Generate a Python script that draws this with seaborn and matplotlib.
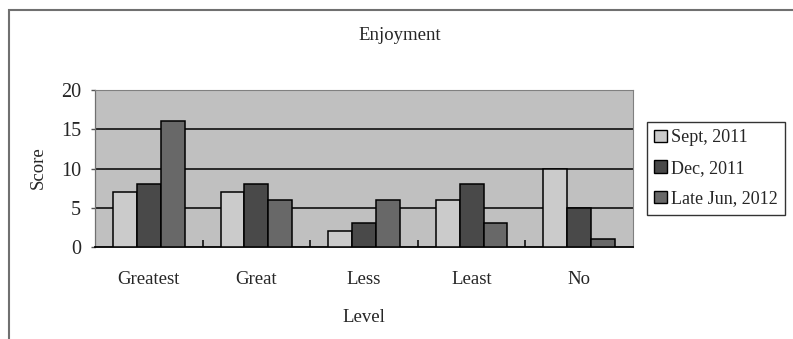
import matplotlib
matplotlib.use("Agg")
import matplotlib.pyplot as plt
import seaborn as sns
import pandas as pd
from matplotlib.patches import Patch, Rectangle
from matplotlib.ticker import FixedLocator

levels = ["Greatest", "Great", "Less", "Least", "No"]
periods = ["Sept, 2011", "Dec, 2011", "Late Jun, 2012"]
sept_2011 = [7, 7, 2, 6, 10]
dec_2011 = [8, 8, 3, 8, 5]
late_jun_2012 = [16, 6, 6, 3, 1]
y_ticks = [0, 5, 10, 15, 20]

colors = ["#cbcbcb", "#494949", "#686868"]
bg = "#c0c0c0"

rows = []
for period, vals in zip(periods, [sept_2011, dec_2011, late_jun_2012]):
    for lvl, v in zip(levels, vals):
        rows.append({"Level": lvl, "Period": period, "Score": v})
df = pd.DataFrame(rows)

sns.set_theme(style="white")
plt.rcParams["font.family"] = ["Liberation Serif", "DejaVu Serif"]

fs = 13.5

fig = plt.figure(figsize=(7.93, 3.39), dpi=100)
ax = fig.add_axes([95 / 793, 1 - 247 / 339, (633 - 95) / 793, (247 - 90) / 339])
ax.set_facecolor(bg)

sns.barplot(data=df, x="Level", y="Score", hue="Period", order=levels,
            hue_order=periods, palette=colors, width=0.667,
            edgecolor="black", linewidth=1.1, saturation=1, ax=ax,
            legend=False, zorder=3)

ax.set_ylim(0, 20)
ax.set_xlim(-0.5, len(levels) - 0.5)
ax.set_yticks(y_ticks)
ax.set_yticklabels([str(t) for t in y_ticks], fontsize=14.5)
for t in y_ticks[1:-1]:
    ax.axhline(t, color="black", linewidth=1.1, zorder=1)

ax.tick_params(axis="x", which="major", length=0, pad=17, labelsize=fs)
ax.xaxis.set_minor_locator(FixedLocator([i + 0.5 for i in range(len(levels) - 1)]))
ax.tick_params(axis="x", which="minor", direction="in", length=5, width=1.1,
               color="black", bottom=True)
ax.tick_params(axis="y", which="major", direction="out", length=3, width=1,
               color="#555555", pad=7, left=True)

ax.set_xlabel("")
ax.set_ylabel("")
for side in ["top", "right"]:
    ax.spines[side].set_color("#808080")
    ax.spines[side].set_linewidth(0.8)
ax.spines["left"].set_color("#707070")
ax.spines["left"].set_linewidth(0.9)
ax.spines["bottom"].set_color("black")
ax.spines["bottom"].set_linewidth(1.3)

fig.text(400 / 793, 1 - 36 / 339, "Enjoyment", ha="center", va="center", fontsize=fs)
fig.text(38 / 793, 1 - 168 / 339, "Score", ha="center", va="center",
         rotation=90, fontsize=fs)
fig.text(364 / 793, 1 - 318 / 339, "Level", ha="center", va="center", fontsize=fs)

handles = [Patch(facecolor=c, edgecolor="black", linewidth=1) for c in colors]
leg = fig.legend(handles, periods, loc="upper left",
                 bbox_to_anchor=(647 / 793, 1 - 122 / 339),
                 fontsize=13, frameon=True, fancybox=False,
                 handlelength=0.7, handleheight=0.7, handletextpad=0.25,
                 labelspacing=0.75, borderpad=0.4, borderaxespad=0)
leg.get_frame().set_edgecolor("black")
leg.get_frame().set_linewidth(1)

# outer chart frame along the top and left edges
fig.patches.append(Rectangle((9 / 793, -0.1), 1.2, 1.1 - 10 / 339,
                             transform=fig.transFigure, fill=False,
                             edgecolor="#707070", linewidth=1.5, zorder=0))

fig.savefig("out.png", dpi=100)
